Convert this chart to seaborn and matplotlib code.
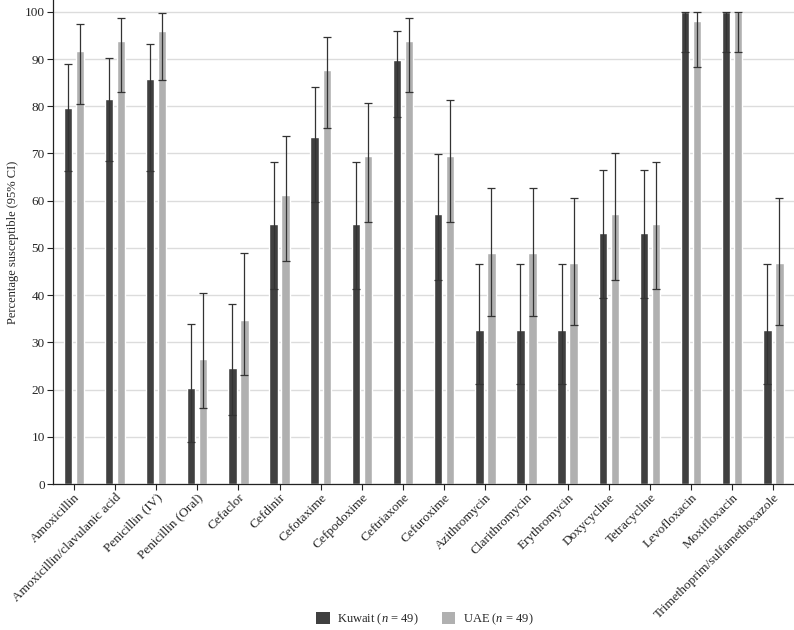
import numpy as np
import pandas as pd
import matplotlib
matplotlib.use("Agg")
import matplotlib.pyplot as plt
import seaborn as sns
from matplotlib.patches import Patch

drugs = ["Amoxicillin", "Amoxicillin/clavulanic acid", "Penicillin (IV)", "Penicillin (Oral)",
         "Cefaclor", "Cefdinir", "Cefotaxime", "Cefpodoxime", "Ceftriaxone", "Cefuroxime",
         "Azithromycin", "Clarithromycin", "Erythromycin", "Doxycycline", "Tetracycline",
         "Levofloxacin", "Moxifloxacin", "Trimethoprim/sulfamethoxazole"]

kuwait = [79.6, 81.6, 85.7, 20.4, 24.5, 55.1, 73.5, 55.1, 89.8, 57.1,
          32.7, 32.7, 32.7, 53.1, 53.1, 100.0, 100.0, 32.7]
kuwait_lo = [66.3, 68.4, 66.3, 8.9, 14.6, 41.2, 59.7, 41.2, 77.8, 43.2,
             21.2, 21.2, 21.2, 39.5, 39.5, 91.4, 91.4, 21.2]
kuwait_hi = [88.9, 90.2, 93.2, 33.8, 38.2, 68.2, 84.0, 68.2, 96.0, 69.9,
             46.7, 46.7, 46.7, 66.4, 66.4, 100.0, 100.0, 46.7]

uae = [91.8, 93.9, 95.9, 26.5, 34.7, 61.2, 87.6, 69.4, 93.9, 69.4,
       49.0, 49.0, 46.9, 57.1, 55.1, 98.0, 100.0, 46.9]
uae_lo = [80.4, 83.0, 85.5, 16.0, 23.0, 47.3, 75.4, 55.4, 83.0, 55.5,
          35.6, 35.6, 33.6, 43.2, 41.2, 88.4, 91.4, 33.6]
uae_hi = [97.4, 98.6, 99.8, 40.4, 48.9, 73.7, 94.7, 80.6, 98.6, 81.3,
          62.6, 62.6, 60.5, 70.0, 68.2, 100.0, 100.0, 60.5]

groups = ["Kuwait", "UAE"]
legend_labels = [r"Kuwait ($n$ = 49)", r"UAE ($n$ = 49)"]
colors = ["#404040", "#b0b0b0"]

sns.set_theme(style="white")
plt.rcParams["font.family"] = ["Liberation Serif", "DejaVu Serif"]
plt.rcParams["mathtext.fontset"] = "custom"
plt.rcParams["mathtext.it"] = "Liberation Serif:italic"
plt.rcParams["mathtext.rm"] = "Liberation Serif"

df = pd.DataFrame({
    "drug": drugs * 2,
    "group": [groups[0]] * len(drugs) + [groups[1]] * len(drugs),
    "value": kuwait + uae,
})

fig = plt.figure(figsize=(7.94, 6.30), dpi=100)
ax = fig.add_axes([0.067, 0.2317, 0.933, 0.7683])

ax.set_axisbelow(True)
ax.yaxis.grid(True, color="#dcdcdc", linewidth=1.0)

sns.barplot(data=df, x="drug", y="value", hue="group", order=drugs, hue_order=groups,
            palette=colors, width=0.585, gap=0.3, errorbar=None, legend=False,
            saturation=1, ax=ax)

# error bars at the centres of the bars seaborn drew
patches = [p for p in ax.patches if p.get_width() > 0]
n = len(drugs)
for gi, (lo, hi) in enumerate([(kuwait_lo, kuwait_hi), (uae_lo, uae_hi)]):
    ps = patches[gi * n:(gi + 1) * n]
    xs = [p.get_x() + p.get_width() / 2 for p in ps]
    vals = [p.get_height() for p in ps]
    yerr = np.array([[v - l for v, l in zip(vals, lo)], [h - v for v, h in zip(vals, hi)]])
    ax.errorbar(xs, vals, yerr=yerr, fmt="none", ecolor="#333333", elinewidth=0.9,
                capsize=3, capthick=0.9)

ax.set_xlim(-0.5, len(drugs) - 0.5)
ax.set_ylim(0, 102.5)
ax.set_yticks(range(0, 101, 10))
ax.set_xlabel("")
ax.set_ylabel("Percentage susceptible (95% CI)", fontsize=9)
ax.tick_params(axis="y", labelsize=9.5, length=4, width=0.8, color="#222222", left=True, pad=2)
ax.tick_params(axis="x", labelsize=9.5, length=4.5, width=0.8, color="#222222", bottom=True, pad=1)
plt.setp(ax.get_xticklabels(), rotation=45, ha="right", rotation_mode="anchor")

for s in ["top", "right"]:
    ax.spines[s].set_visible(False)
for s in ["left", "bottom"]:
    ax.spines[s].set_color("#222222")
    ax.spines[s].set_linewidth(0.9)

handles = [Patch(facecolor=c, edgecolor="none") for c in colors]
fig.legend(handles, legend_labels, loc="center", bbox_to_anchor=(0.535, 0.017), ncol=2,
           frameon=False, fontsize=9, handlelength=1.1, handleheight=1.1, columnspacing=1.8,
           handletextpad=0.6)

fig.savefig("out.png", dpi=100)
